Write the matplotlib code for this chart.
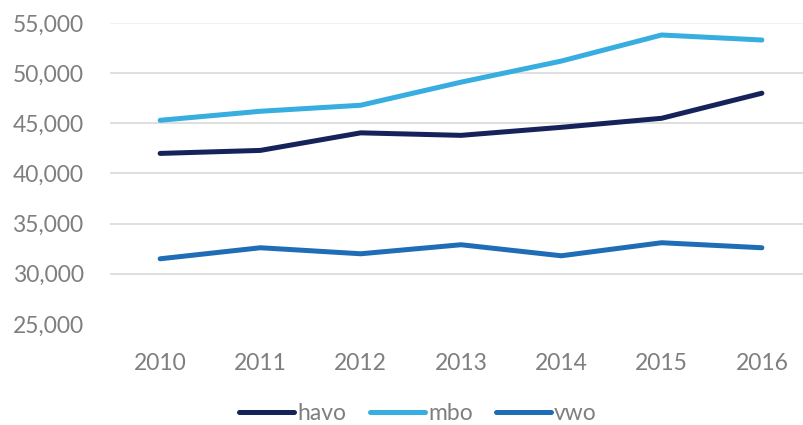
import numpy as np
import matplotlib.pyplot as plt

# data
years = ["2010", "2011", "2012", "2013", "2014", "2015", "2016"]
havo = [42000, 42300, 44050, 43800, 44600, 45500, 48000]
mbo = [45300, 46200, 46800, 49100, 51200, 53800, 53300]
vwo = [31500, 32600, 32000, 32900, 31800, 33100, 32600]

plt.rcParams['font.family'] = ['Lato', 'DejaVu Sans']
grey = '#7F7F7F'

fig = plt.figure(figsize=(8.04, 4.25), dpi=100)
ax = fig.add_axes([0.1368, 0.2376, 0.8632, 0.7084])

x = np.arange(len(years))
ax.plot(x, havo, color='#16235A', lw=3.6, solid_capstyle='round', solid_joinstyle='round', label='havo')
ax.plot(x, mbo, color='#37ADE0', lw=3.6, solid_capstyle='round', solid_joinstyle='round', label='mbo')
ax.plot(x, vwo, color='#1F6EB5', lw=3.6, solid_capstyle='round', solid_joinstyle='round', label='vwo')

ax.set_xlim(-0.5, 6.42)
ax.set_ylim(25000, 55000)
ax.set_xticks(x)
ax.set_xticklabels(years)
ax.set_yticks(np.arange(25000, 55001, 5000))
ax.yaxis.set_major_formatter(plt.FuncFormatter(lambda v, p: f"{int(v):,}"))
ax.tick_params(length=0, labelsize=16.5, colors=grey, pad=19)
ax.tick_params(axis='x', pad=21)

ax.yaxis.grid(True, color='#D9D9D9', lw=1.2)
ax.get_ygridlines()[0].set_visible(False)
ax.get_ygridlines()[-1].set_color('#F0F0F0')
ax.set_axisbelow(True)
for s in ax.spines.values():
    s.set_visible(False)

leg = fig.legend(loc='center', bbox_to_anchor=(0.52, 0.027), ncol=3, frameon=False,
                 fontsize=16.5, handlelength=2.4, handletextpad=0.15, columnspacing=1.0)
for t in leg.get_texts():
    t.set_color(grey)

fig.savefig("out.png", dpi=100)
